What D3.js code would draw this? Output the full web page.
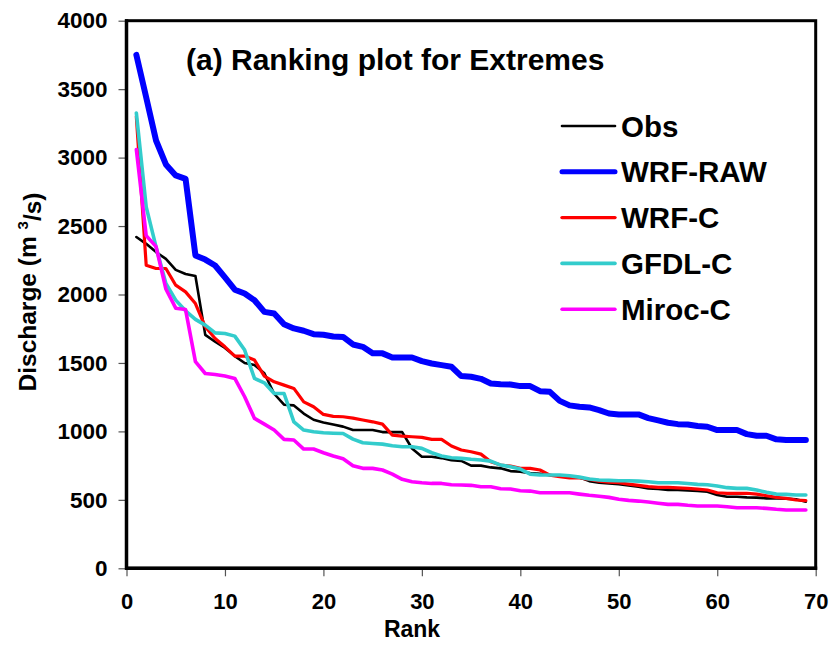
<!DOCTYPE html>
<html>
<head>
<meta charset="utf-8">
<script src="https://cdn.jsdelivr.net/npm/d3@7"></script>
<style>
  html, body { margin: 0; padding: 0; background: #fff; }
  svg { display: block; font-family: "Liberation Sans", Arial, sans-serif; font-weight: bold; }
</style>
</head>
<body>
<svg id="chart" width="832" height="651"></svg>
<script>
// Ranked discharge (m3/s), largest first, rank 1..69
const obs = [2420, 2370, 2310, 2260, 2180, 2150, 2135, 1705, 1655, 1610,
  1550, 1500, 1485, 1425, 1275, 1195, 1190, 1130, 1085, 1065,
  1050, 1035, 1010, 1010, 1010, 995, 995, 995, 875, 815,
  815, 805, 790, 785, 750, 750, 737, 730, 710, 705,
  695, 690, 680, 676, 672, 665, 637, 625, 620, 615,
  606, 596, 584, 579, 572, 572, 569, 565, 559, 535,
  523, 523, 518, 516, 511, 511, 509, 504, 486];

const wrfRaw = [3750, 3440, 3125, 2950, 2870, 2845, 2285, 2255, 2212, 2125,
  2035, 2007, 1958, 1873, 1861, 1783, 1752, 1735, 1710, 1706,
  1693, 1690, 1635, 1618, 1570, 1570, 1540, 1540, 1540, 1513,
  1496, 1484, 1472, 1404, 1399, 1384, 1350, 1345, 1343, 1331,
  1331, 1294, 1289, 1223, 1190, 1180, 1175, 1156, 1131, 1124,
  1124, 1124, 1097, 1080, 1063, 1053, 1051, 1039, 1034, 1010,
  1010, 1010, 980, 968, 968, 942, 937, 937, 937];

const wrfC = [3300, 2214, 2190, 2190, 2068, 2019, 1934, 1764, 1679, 1618,
  1550, 1550, 1521, 1404, 1362, 1338, 1314, 1216, 1180, 1124,
  1110, 1107, 1097, 1083, 1070, 1053, 973, 966, 961, 956,
  942, 942, 893, 864, 851, 834, 778, 754, 747, 730,
  730, 718, 681, 669, 661, 660, 650, 637, 630, 625,
  615, 606, 596, 591, 591, 588, 584, 579, 572, 552,
  548, 548, 548, 542, 530, 518, 511, 499, 494];

const gfdlC = [3326, 2640, 2348, 2081, 1959, 1881, 1818, 1776, 1720, 1715,
  1696, 1594, 1387, 1355, 1277, 1277, 1070, 1010, 997, 990,
  987, 985, 944, 917, 912, 907, 895, 888, 888, 876,
  844, 820, 807, 803, 796, 791, 783, 754, 742, 725,
  688, 681, 681, 681, 676, 666, 652, 645, 642, 640,
  640, 637, 632, 625, 625, 625, 620, 613, 610, 601,
  589, 584, 584, 572, 555, 542, 540, 535, 535];

const mirocC = [3059, 2430, 2350, 2040, 1900, 1890, 1510, 1423, 1416, 1404,
  1387, 1253, 1095, 1053, 1010, 942, 937, 871, 871, 844,
  820, 800, 749, 730, 730, 718, 688, 650, 632, 625,
  620, 620, 610, 608, 606, 596, 596, 581, 579, 567,
  564, 552, 552, 552, 552, 542, 533, 526, 518, 504,
  496, 491, 484, 475, 467, 467, 460, 455, 455, 455,
  450, 442, 442, 442, 438, 431, 426, 426, 426];

const seriesNames = ["Obs", "WRF-RAW", "WRF-C", "GFDL-C", "Miroc-C"];
const seriesColors = ["#000000", "#0000FF", "#FF0000", "#33CCCC", "#FF00FF"];
const seriesWidths = [2.6, 6, 3.2, 3.6, 3.6];
const legendWidths = [2.6, 5, 3.4, 3.6, 3.4];

const xTicks = [0, 10, 20, 30, 40, 50, 60, 70];
const yTicks = [0, 500, 1000, 1500, 2000, 2500, 3000, 3500, 4000];

const titleText = "(a) Ranking plot for Extremes";
const xTitle = "Rank";

const seriesValues = [obs, wrfRaw, wrfC, gfdlC, mirocC];
const series = seriesNames.map((name, i) => ({
  name,
  color: seriesColors[i],
  width: seriesWidths[i],
  legendWidth: legendWidths[i],
  points: seriesValues[i].map((v, j) => ({ rank: j + 1, value: v }))
}));

const svg = d3.select("#chart");
const plot = { left: 126.5, right: 815.7, top: 20.7, bottom: 568.3 };

const x = d3.scaleLinear().domain([0, 70]).range([plot.left, plot.right]);
const y = d3.scaleLinear().domain([0, 4000]).range([plot.bottom, plot.top]);

// Plot frame
svg.append("rect")
  .attr("x", plot.left).attr("y", plot.top)
  .attr("width", plot.right - plot.left).attr("height", plot.bottom - plot.top)
  .attr("fill", "none").attr("stroke", "#000").attr("stroke-width", 3);

// Y axis
const yAxis = svg.append("g")
  .attr("transform", `translate(${plot.left},0)`)
  .call(d3.axisLeft(y).tickValues(yTicks).tickSize(8).tickPadding(11).tickFormat(d3.format("d")));
yAxis.select(".domain").remove();
yAxis.selectAll(".tick line").attr("stroke", "#555").attr("stroke-width", 1.2);
yAxis.selectAll(".tick text")
  .attr("fill", "#000")
  .style("font-size", "22.5px")
  .style("font-weight", "bold")
  .style("font-family", "'Liberation Sans', Arial, sans-serif");

// X axis
const xAxis = svg.append("g")
  .attr("transform", `translate(0,${plot.bottom})`)
  .call(d3.axisBottom(x).tickValues(xTicks).tickSize(8).tickPadding(17).tickFormat(d3.format("d")));
xAxis.select(".domain").remove();
xAxis.selectAll(".tick line").attr("stroke", "#555").attr("stroke-width", 1.2);
xAxis.selectAll(".tick text")
  .attr("fill", "#000")
  .style("font-size", "22px")
  .style("font-weight", "bold")
  .style("font-family", "'Liberation Sans', Arial, sans-serif");

// Series lines
const line = d3.line()
  .x(d => x(d.rank))
  .y(d => y(d.value));

svg.append("g").selectAll("path")
  .data(series)
  .join("path")
  .attr("d", d => line(d.points))
  .attr("fill", "none")
  .attr("stroke", d => d.color)
  .attr("stroke-width", d => d.width)
  .attr("stroke-linejoin", "round")
  .attr("stroke-linecap", "round");

// Redraw the axis lines over the data
svg.append("line")
  .attr("x1", plot.left).attr("x2", plot.left)
  .attr("y1", plot.top - 1.5).attr("y2", plot.bottom + 1.5)
  .attr("stroke", "#000").attr("stroke-width", 3.5);
svg.append("line")
  .attr("x1", plot.left - 1.5).attr("x2", plot.right + 1.5)
  .attr("y1", plot.bottom).attr("y2", plot.bottom)
  .attr("stroke", "#000").attr("stroke-width", 3.5);

// Title
svg.append("text")
  .attr("x", 186).attr("y", 70)
  .style("font-size", "30px")
  .text(titleText);

// Legend
const legend = svg.append("g").selectAll("g")
  .data(series)
  .join("g")
  .attr("transform", (d, i) => `translate(562,${126 + i * 45.8})`);
legend.append("line")
  .attr("x1", 0).attr("x2", 53)
  .attr("y1", 0).attr("y2", 0)
  .attr("stroke", d => d.color)
  .attr("stroke-width", d => d.legendWidth)
  .attr("stroke-linecap", "round");
legend.append("text")
  .attr("x", 59).attr("y", 0)
  .attr("dy", "0.36em")
  .style("font-size", "29.5px")
  .text(d => d.name);

// Axis titles
svg.append("text")
  .attr("x", 412)
  .attr("y", 637)
  .attr("text-anchor", "middle")
  .style("font-size", "23px")
  .text(xTitle);

const yTitle = svg.append("text")
  .attr("transform", "translate(36,292) rotate(-90)")
  .attr("text-anchor", "middle")
  .style("font-size", "24.5px");
yTitle.append("tspan").text("Discharge (m ");
yTitle.append("tspan").attr("dy", "-0.55em").style("font-size", "15px").text("3");
yTitle.append("tspan").attr("dy", "0.55em").text("/s)");
</script>
</body>
</html>
